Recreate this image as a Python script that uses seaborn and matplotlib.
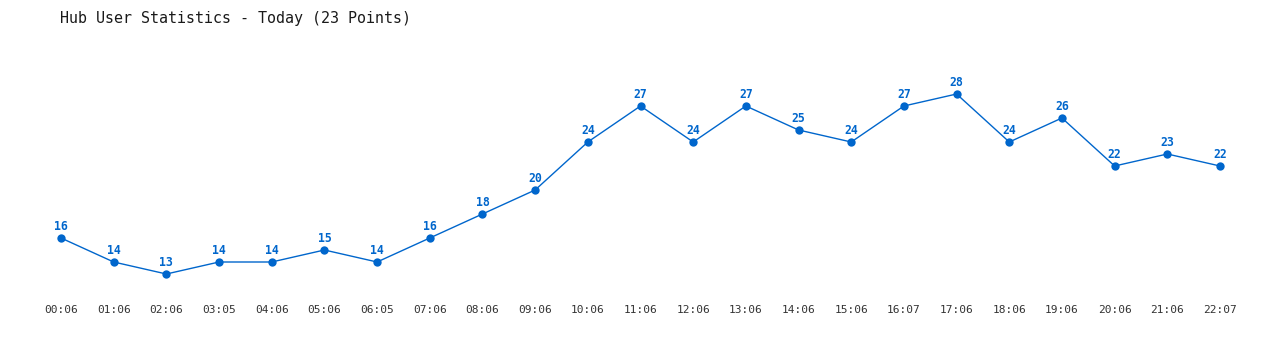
import matplotlib
matplotlib.use("Agg")
import matplotlib.pyplot as plt
import seaborn as sns
import pandas as pd

times = ["00:06", "01:06", "02:06", "03:05", "04:06", "05:06", "06:05", "07:06",
         "08:06", "09:06", "10:06", "11:06", "12:06", "13:06", "14:06", "15:06",
         "16:07", "17:06", "18:06", "19:06", "20:06", "21:06", "22:07"]
users = [16, 14, 13, 14, 14, 15, 14, 16, 18, 20, 24, 27, 24, 27, 25, 24, 27, 28,
         24, 26, 22, 23, 22]
title = "Hub User Statistics - Today (23 Points)"

sns.set_theme(style="white")
plt.rcParams['font.family'] = ['DejaVu Sans Mono', 'Liberation Mono']

df = pd.DataFrame({"idx": range(len(users)), "users": users, "time": times})

W, H = 1280, 350
fig = plt.figure(figsize=(W / 100, H / 100), dpi=100)
x0, x1 = 61, 1220
ytop, ybot = 40, 300
ax = fig.add_axes([x0 / W, 1 - ybot / H, (x1 - x0) / W, (ybot - ytop) / H])

color = "#0066cc"
sns.lineplot(data=df, x="idx", y="users", ax=ax, color=color, linewidth=1,
             marker="o", markersize=6, markeredgewidth=0, clip_on=False)

for i, v in enumerate(users):
    ax.annotate(str(v), (i, v), xytext=(0, 6), textcoords="offset points",
                ha="center", va="baseline", fontsize=8.3, fontweight="bold",
                color=color)

# y scale: 12 px per unit, 16 at pixel 238
ppu = 12.0
ax.set_ylim(16 - (ybot - 238) / ppu, 16 + (238 - ytop) / ppu)
ax.set_xlim(0, len(users) - 1)
ax.set_xticks(range(len(times)))
ax.set_xticklabels(times, fontsize=8, color="#333333")
ax.tick_params(axis="x", length=0, pad=3.5)
ax.set_yticks([])
ax.set_xlabel("")
ax.set_ylabel("")
for s in ax.spines.values():
    s.set_visible(False)
ax.set_facecolor("none")

fig.text(60 / W, 1 - 18 / H, title, ha="left", va="center", fontsize=10.8,
         color="#1a1a1a")

fig.savefig("out.png", dpi=100, facecolor="white")
